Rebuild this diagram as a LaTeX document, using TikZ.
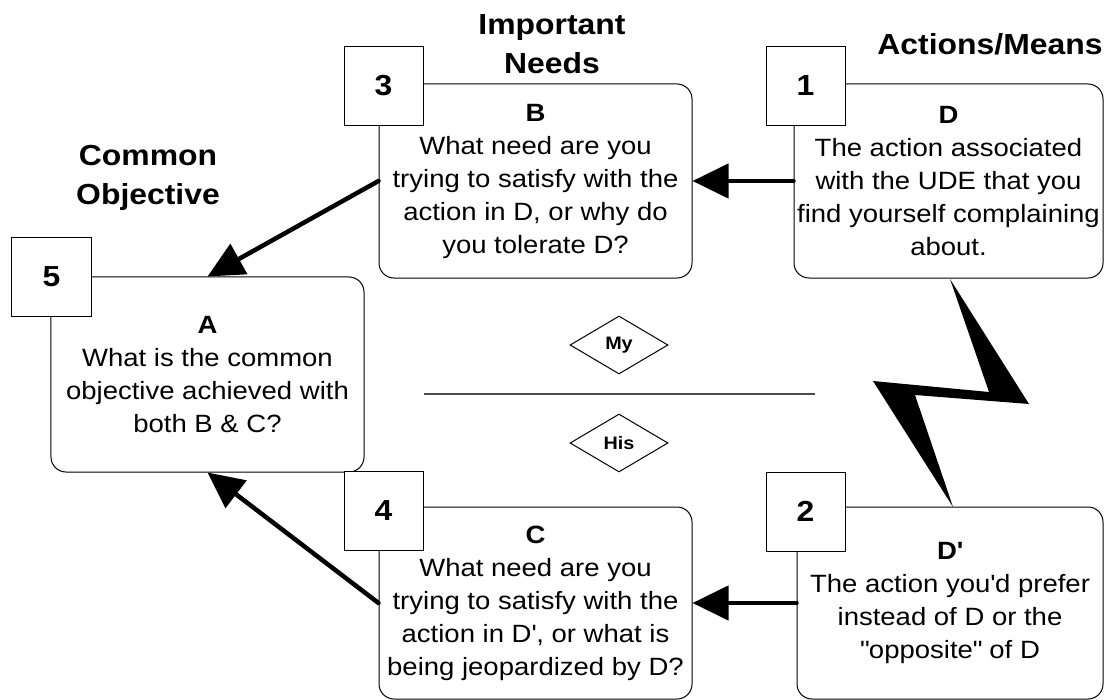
\documentclass[tikz,border=0pt]{standalone}
\usepackage{fontspec}
\setmainfont{Liberation Sans}[FakeStretch=1.1]
\usetikzlibrary{arrows.meta,shapes.geometric}

\begin{document}
\begin{tikzpicture}[x=1bp,y=-1bp,
	box/.style={draw, line width=1bp, rounded corners=15bp, minimum width=313bp, minimum height=194bp, inner sep=0pt, align=center, font=\fontsize{25bp}{33bp}\selectfont},
	num/.style={draw, fill=white, line width=1bp, minimum size=79bp, inner sep=0pt, font=\fontsize{29bp}{33bp}\selectfont\bfseries},
	head/.style={align=center, font=\fontsize{29bp}{39bp}\selectfont\bfseries},
	side/.style={draw, diamond, aspect=1.7, minimum width=98bp, minimum height=58bp, inner sep=0pt, line width=1bp, font=\fontsize{18bp}{20bp}\selectfont\bfseries},
	flow/.style={line width=4.5bp, line cap=round, -{Triangle[length=36bp,width=34bp]}}]
	\useasboundingbox (0,0) rectangle (1104,700);

	\path
	node[head] at (552,44) (needs) {Important\\Needs}
	node[head] at (990,44) (means) {Actions/Means}
	node[head] at (148,178) (objective) {Common\\Objective}

	node[box] at (535.5,181) (b) {\textbf{B}\\What need are you\\trying to satisfy with the\\action in D, or why do\\you tolerate D?}
	node[num] at (383.5,86) (n3) {3}
	node[box, minimum width=309bp] at (948.5,181) (d) {\textbf{D}\\The action associated\\with the UDE that you\\find yourself complaining\\about.}
	node[num] at (805.5,86) (n1) {1}
	node[box, minimum height=195bp] at (207.5,374.5) (a) {\textbf{A}\\What is the common\\objective achieved with\\both B \& C?}
	node[num] at (51.5,276.5) (n5) {5}
	node[box, minimum height=192bp] at (535.5,603) (c) {\textbf{C}\\What need are you\\trying to satisfy with the\\action in D\textquotesingle, or what is\\being jeopardized by D?}
	node[num] at (383.5,510.5) (n4) {4}
	node[box, minimum width=306bp, minimum height=192bp] at (950,603) (dp) {\textbf{D\textquotesingle}\\The action you\textquotesingle d prefer\\instead of D or the\\\textquotedbl opposite\textquotedbl{} of D}
	node[num] at (805.5,511.5) (n2) {2}

	node[side] at (619,345) (my) {My}
	node[side] at (619,443) (his) {His};

	% my side / his side
	\draw[line width=1.2bp, black!70] (424,394) -- (815,394);

	% conflict between D and D'
	\fill (950,279) -- (1029,404) -- (915,395) -- (953,507) -- (873,381) -- (989,392) -- cycle;

	\draw[flow] (d.west) -- (b.east);
	\draw[flow] (b.west) -- (a.north);
	\draw[flow] (dp.west) -- (c.east);
	\draw[flow] (c.west) -- (a.south);
\end{tikzpicture}
\end{document}
